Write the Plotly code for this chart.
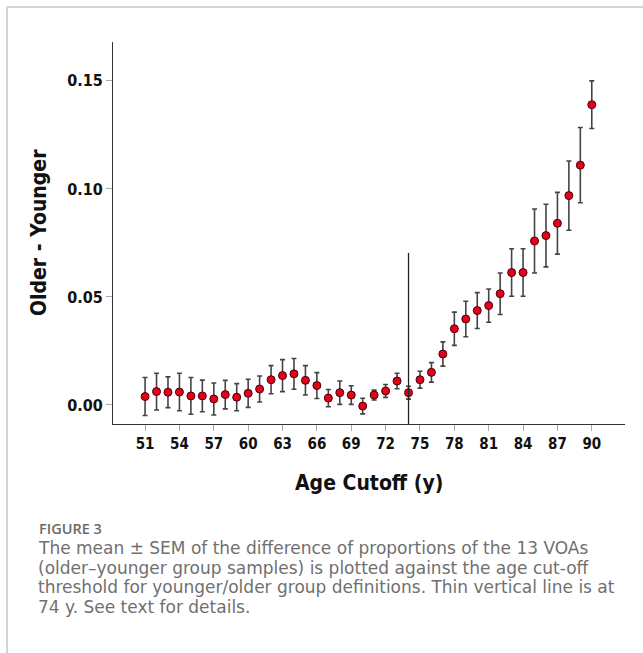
import plotly.graph_objects as go

# ---- data ----
age_cutoff = list(range(51, 91))
mean_diff = [0.0039, 0.0062, 0.0059, 0.0060, 0.0042, 0.0042, 0.0028, 0.0048, 0.0036, 0.0054,
             0.0074, 0.0117, 0.0136, 0.0144, 0.0114, 0.0090, 0.0032, 0.0057, 0.0046, -0.0005,
             0.0046, 0.0065, 0.0111, 0.0057, 0.0117, 0.0151, 0.0236, 0.0353, 0.0398, 0.0437,
             0.0460, 0.0515, 0.0613, 0.0613, 0.0759, 0.0784, 0.0841, 0.0969, 0.1110, 0.1390]
sem = [0.0088, 0.0085, 0.0071, 0.0087, 0.0085, 0.0073, 0.0074, 0.0066, 0.0063, 0.0065,
       0.0060, 0.0065, 0.0074, 0.0071, 0.0068, 0.0060, 0.0040, 0.0054, 0.0043, 0.0036,
       0.0023, 0.0030, 0.0036, 0.0030, 0.0039, 0.0045, 0.0056, 0.0077, 0.0082, 0.0083,
       0.0077, 0.0096, 0.0110, 0.0110, 0.0148, 0.0145, 0.0143, 0.0160, 0.0174, 0.0110]
x_ticks = list(range(51, 91, 3))
y_ticks = [0.00, 0.05, 0.10, 0.15]
y_tick_labels = ["0.00", "0.05", "0.10", "0.15"]
vline_age = 74
vline_top = 0.0704
x_range = [48.2, 92.9]
y_range = [-0.0088, 0.168]

x_title = "Age Cutoff (y)"
y_title = "Older - Younger"
fig_label = "FIGURE 3"
caption_lines = [
    "The mean \u00b1 SEM of the difference of proportions of the 13 VOAs",
    "(older\u2013younger group samples) is plotted against the age cut-off",
    "threshold for younger/older group definitions. Thin vertical line is at",
    "74 y. See text for details.",
]

W, H = 643, 653
L, R, T, B = 113, 18, 42, 229
PH = H - T - B
PW = W - L - R


def py(pix):
    return (H - B - pix) / PH


def px(pix):
    return (pix - L) / PW


axis_font = "DejaVu Sans Condensed"
cap_font = "DejaVu Sans"

fig = go.Figure()
fig.add_trace(go.Scatter(
    x=age_cutoff, y=mean_diff, mode="markers",
    error_y=dict(type="data", array=sem, visible=True, color="#444444",
                 thickness=1.6, width=2.5),
    marker=dict(size=8, color="#e5001c", line=dict(color="#4a0008", width=1)),
    showlegend=False, cliponaxis=False,
))

fig.add_shape(type="line", xref="x", yref="y", x0=vline_age, x1=vline_age,
              y0=y_range[0], y1=vline_top, line=dict(color="#222222", width=1.3))

# outer frame (top and left)
fig.add_shape(type="line", xref="paper", yref="paper", x0=px(7), x1=px(W + 5),
              y0=py(7), y1=py(7), line=dict(color="#d4d4d4", width=2))
fig.add_shape(type="line", xref="paper", yref="paper", x0=px(7), x1=px(7),
              y0=py(7), y1=py(H + 5), line=dict(color="#d4d4d4", width=2))

annotations = [
    dict(text=x_title, x=px(369), y=py(483), xref="paper", yref="paper",
         showarrow=False, xanchor="center", yanchor="middle",
         font=dict(family=axis_font, size=21, color="#111111", weight="bold")),
    dict(text=y_title, x=px(39), y=py(233), xref="paper", yref="paper",
         showarrow=False, xanchor="center", yanchor="middle", textangle=-90,
         font=dict(family=axis_font, size=21, color="#111111", weight="bold")),
    dict(text=fig_label, x=px(38), y=py(528), xref="paper", yref="paper",
         showarrow=False, xanchor="left", yanchor="middle", borderpad=0,
         font=dict(family="Open Sans", size=14.5, color="#6a6a6a", weight=600)),
]
for i, line in enumerate(caption_lines):
    annotations.append(dict(text=line, x=px(37), y=py(548 + i * 19.5),
                            xref="paper", yref="paper", showarrow=False,
                            xanchor="left", yanchor="middle", borderpad=0,
                            font=dict(family=cap_font, size=17, color="#707070")))

fig.update_layout(
    width=W, height=H, margin=dict(l=L, r=R, t=T, b=B, pad=0),
    paper_bgcolor="white", plot_bgcolor="white",
    annotations=annotations,
    xaxis=dict(range=x_range, tickvals=x_ticks, showgrid=False, zeroline=False,
               showline=True, linecolor="#333333", linewidth=1.2,
               ticks="outside", ticklen=6, tickcolor="#aaaaaa", tickwidth=1,
               tickfont=dict(family=axis_font, size=15, color="#111111", weight="bold")),
    yaxis=dict(range=y_range, tickvals=y_ticks, ticktext=y_tick_labels,
               showgrid=False, zeroline=False,
               showline=True, linecolor="#333333", linewidth=1.2,
               ticks="outside", ticklen=6, tickcolor="#aaaaaa", tickwidth=1,
               tickfont=dict(family=axis_font, size=16, color="#111111", weight="bold")),
)

fig.write_html("out.html")
